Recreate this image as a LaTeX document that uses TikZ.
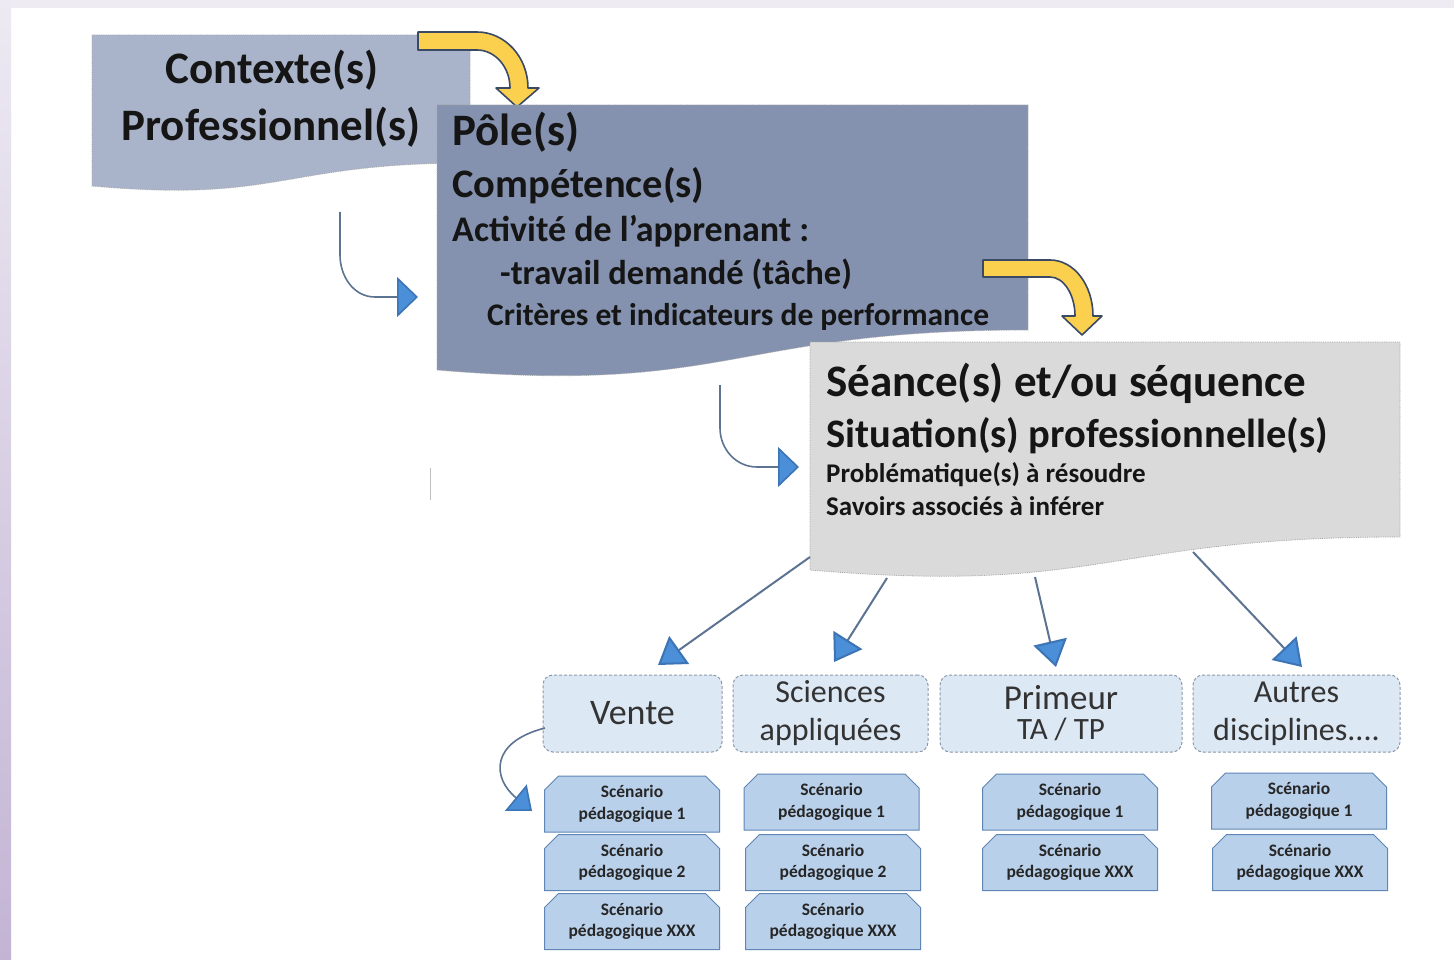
\documentclass[tikz,border=0pt]{standalone}
\usepackage{fontspec}
\setmainfont{Carlito}
\usetikzlibrary{shapes.misc,arrows.meta}
\definecolor{ctxfill}{HTML}{A9B3CA}
\definecolor{polefill}{HTML}{8492AF}
\definecolor{seqfill}{HTML}{DADADA}
\definecolor{discfill}{HTML}{DDE8F5}
\definecolor{discborder}{HTML}{8C99AA}
\definecolor{scenfill}{HTML}{B9D0EA}
\definecolor{scenborder}{HTML}{5F86B5}
\definecolor{yel}{HTML}{FBD04E}
\definecolor{yelborder}{HTML}{3A4A66}
\definecolor{connc}{HTML}{5D7392}
\definecolor{headfill}{HTML}{4A8FD8}
\definecolor{headdraw}{HTML}{3D74B4}
\definecolor{bgtop}{HTML}{EDEAF3}
\definecolor{bgbot}{HTML}{C3B4D4}
\definecolor{bgstrip}{HTML}{EEEBF3}
\definecolor{txt}{HTML}{151515}
\newcommand{\myfs}[2]{\fontsize{#1}{#2}\selectfont}
\begin{document}
\begin{tikzpicture}[x=1pt,y=-1pt,
  docbox/.style={fill=#1, draw=black!35, densely dotted, line width=0.8pt},
  ltxt/.style={anchor=base west, inner sep=0pt, text=txt, font=\bfseries\myfs{#1}{#1}},
  ctxt/.style={anchor=base, inner sep=0pt, text=txt, font=\bfseries\myfs{#1}{#1}},
  yarrow/.style={fill=yel, draw=yelborder, line width=1.6pt, line join=round},
  disc/.style={rounded corners=10pt, draw=discborder, densely dashed, line width=1pt,
     fill=discfill, align=center, text=black!80, inner sep=0pt,
     minimum height=77pt},
  scen/.style={chamfered rectangle, chamfered rectangle corners={north west,north east},
     chamfered rectangle xsep=7pt, chamfered rectangle ysep=7pt,
     draw=scenborder, line width=1pt, fill=scenfill, align=center, inner sep=0pt,
     font=\bfseries\myfs{17.5}{21.5}, text=black!85, minimum width=175pt, minimum height=56pt}
]
\useasboundingbox (0,0) rectangle (1454,960);
% background
\fill[white] (0,0) rectangle (1454,960);
\shade[top color=bgtop, bottom color=bgbot] (0,0) rectangle (11,960);
\fill[bgstrip] (11,0) rectangle (1454,8);

% Contexte box
\path[docbox=ctxfill] (92,35) -- (470,35) -- (470,163)
   .. controls (281,163) and (281,203) .. (92,186) -- cycle;
\node[ctxt=45] (ctx1) at (272,84) {Contexte(s)};
\node[ctxt=45] (ctx2) at (271,141) {Professionnel(s)};

% yellow arrow 1
\path[yarrow] (418,32) -- (477,32) .. controls (505,32) and (528,57) .. (528,88)
  -- (539,88) -- (517,107) -- (496,88) -- (510,88)
  .. controls (510,67) and (495,50) .. (477,50) -- (418,50) -- cycle;

% Pole box
\path[docbox=polefill] (437,105) -- (1028,105) -- (1028,330)
   .. controls (732,330) and (732,395) .. (437,370) -- cycle;
\node[ltxt=45] (pole) at (452,146) {Pôle(s)};
\node[ltxt=40.5] (comp) at (452,198) {Compétence(s)};
\node[ltxt=36] (acti) at (452,241) {Activité de l’apprenant :};
\node[ltxt=34.5] (trav) at (500,284) {-travail demandé (tâche)};
\node[ltxt=31.5] (crit) at (487,325) {Critères et indicateurs de performance};

% yellow arrow 2
\path[yarrow] (983,260) -- (1050,260) .. controls (1074,260) and (1093,285) .. (1093,316)
  -- (1102,316) -- (1082,335) -- (1062,316) -- (1075,316)
  .. controls (1075,295) and (1064,277) .. (1050,277) -- (983,277) -- cycle;

% Seance box
\path[docbox=seqfill] (810,342) -- (1400,342) -- (1400,537)
   .. controls (1105,537) and (1105,595) .. (810,570) -- cycle;
\node[ltxt=45] (sea) at (826,396) {Séance(s) et/ou séquence};
\node[ltxt=40.5] (sit) at (826,447) {Situation(s) professionnelle(s)};
\node[ltxt=27] (pb) at (826,482) {Problématique(s) à résoudre};
\node[ltxt=27] (sav) at (826,515) {Savoirs associés à inférer};

% curved connectors
\coordinate (c1s) at (340,212);
\coordinate (c1e) at (418,297);
\draw[draw=connc, line width=1.6pt, -{Triangle[length=21pt,width=40pt,fill=headfill,color=headdraw]}]
  (c1s) -- (340,255) to[out=-90,in=180] (375,297) -- (c1e);
\coordinate (c2s) at (720,385);
\coordinate (c2e) at (799,467);
\draw[draw=connc, line width=1.6pt, -{Triangle[length=21pt,width=40pt,fill=headfill,color=headdraw]}]
  (c2s) -- (720,428) to[out=-90,in=180] (757,467) -- (c2e);
\draw[black!25, line width=1pt] (430,468) coordinate (f1) -- (430,500) coordinate (f2);

% discipline boxes
\node[disc, minimum width=179pt, font=\myfs{36}{40}] (vente) at (632.5,713.5) {Vente};
\node[disc, minimum width=195pt, font=\myfs{32}{38}] (sci) at (830.5,713.5) {Sciences\\appliquées};
\node[disc, minimum width=242pt, font=\myfs{35}{30}] (prim) at (1061,713.5) {Primeur\\{\myfs{31}{30}TA / TP}};
\node[disc, minimum width=207pt, font=\myfs{32}{38}] (autr) at (1296.5,713.5) {Autres\\disciplines....};

% straight connectors from seance box
\coordinate (s1) at (810,557);
\coordinate (s2) at (887,578);
\coordinate (s3) at (1035,577);
\coordinate (s4) at (1193,552);
\coordinate (t1) at (658,665);
\coordinate (t2) at (834,662);
\coordinate (t3) at (1056,667);
\coordinate (t4) at (1302,667);
\foreach \a/\b in {s1/t1,s2/t2,s3/t3,s4/t4}
  \draw[draw=connc, line width=2pt, -{Triangle[length=26pt,width=34pt,fill=headfill,color=headdraw]}] (\a) -- (\b);

% Vente curved connector
\coordinate (v1) at (545,728);
\coordinate (v2) at (532,811);
\draw[draw=connc, line width=1.6pt, -{Triangle[length=21pt,width=34pt,fill=headfill,color=headdraw]}]
  (v1) .. controls (490,742) and (492,778) .. (v2);

% scenario boxes
\node[scen] (a1) at (632,804) {Scénario\\pédagogique 1};
\node[scen] (a2) at (632,862.5) {Scénario\\pédagogique 2};
\node[scen] (a3) at (632,921.5) {Scénario\\pédagogique XXX};
\node[scen] (b1) at (831.5,802) {Scénario\\pédagogique 1};
\node[scen] (b2) at (833,862.5) {Scénario\\pédagogique 2};
\node[scen] (b3) at (833,921.5) {Scénario\\pédagogique XXX};
\node[scen] (c1) at (1070,802) {Scénario\\pédagogique 1};
\node[scen] (c2) at (1070,862.5) {Scénario\\pédagogique XXX};
\node[scen] (d1) at (1299,801) {Scénario\\pédagogique 1};
\node[scen] (d2) at (1300,862.5) {Scénario\\pédagogique XXX};
\end{tikzpicture}
\end{document}
